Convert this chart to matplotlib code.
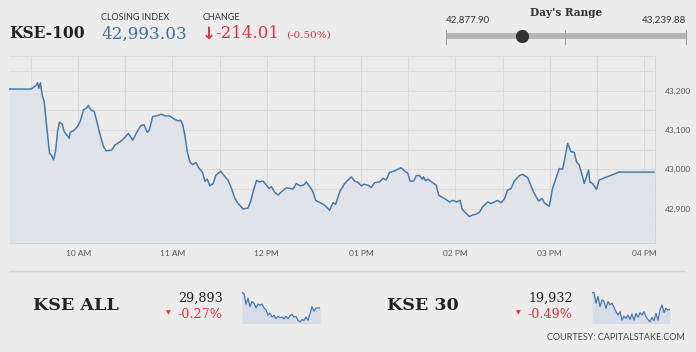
import matplotlib.pyplot as plt
from matplotlib.lines import Line2D

# KSE-100 intraday (minutes after 09:00, index value)
minutes = [16, 30, 33.3, 34.2, 35, 36, 37.1, 38.4, 40.1, 41.8, 43, 44.3, 45.6, 46.9, 48.1,
           49.8, 51.1, 52.8, 54.3, 54.9, 57, 59.6, 61.3, 63.4, 65.1, 66.5, 68.1, 70.2, 71.9,
           74, 76.1, 77.8, 81.4, 83.5, 86.7, 89.2, 91.9, 94.7, 97.3, 99.8, 101.9, 104, 105.3,
           107.4, 110, 112.9, 115.2, 118, 121, 123.7, 125.2, 126.5, 127.9, 129.4, 131.1,
           132.8, 134.9, 137, 139.2, 140.6, 142.1, 143.8, 145.9, 147.6, 150.6, 152.7, 155.4,
           157.6, 159.7, 161.8, 165, 168.1, 169.7, 171.3, 173.5, 175.1, 177.7, 179.8, 181.5,
           183, 185.1, 187.2, 189.4, 192.5, 196.7, 198.9, 201, 203.5, 205.2, 207.3, 209.4,
           211.1, 214.1, 216.8, 220, 222.1, 223.8, 226.4, 229.5, 233.8, 235.9, 238, 240.2,
           241.6, 244.3, 246.5, 248.6, 251.8, 253.9, 256, 258.1, 261.3, 264, 265.5, 267.6,
           269.7, 271.2, 273.4, 275.1, 277.2, 278.9, 279.7, 281, 282.4, 285.2, 287.8, 289.4,
           293, 296.2, 298.3, 300.8, 303, 304.3, 306.8, 308.9, 311, 313.2, 315.3, 317.4,
           320.6, 322.7, 324.8, 326.9, 329.1, 331.1, 333.2, 335.4, 337.5, 340.7, 342.8, 346,
           348.1, 350.2, 353, 355.1, 356.6, 359.7, 361.8, 364, 366.1, 368.2, 369.2, 371.4,
           373.5, 375.6, 377.1, 378.8, 380.9, 382, 383.1, 384.7, 385.6, 387.3, 389.8, 391.5,
           404.2, 426.4]
index = [43204, 43204, 43213, 43220, 43206, 43220, 43189, 43172, 43104, 43041, 43036, 43024,
         43045, 43096, 43120, 43115, 43096, 43087, 43079, 43094, 43098, 43109, 43122, 43151,
         43155, 43162, 43151, 43147, 43122, 43087, 43058, 43047, 43049, 43062, 43070, 43079,
         43091, 43074, 43094, 43111, 43113, 43094, 43100, 43134, 43136, 43140, 43136, 43136,
         43128, 43123, 43125, 43113, 43087, 43045, 43019, 43012, 43017, 43002, 42992, 42970,
         42975, 42958, 42964, 42985, 42995, 42985, 42972, 42951, 42926, 42913, 42899, 42902,
         42918, 42943, 42972, 42968, 42970, 42960, 42951, 42956, 42941, 42935, 42943, 42953,
         42950, 42964, 42958, 42960, 42968, 42956, 42943, 42921, 42915, 42909, 42896, 42915,
         42911, 42943, 42964, 42981, 42970, 42967, 42958, 42962, 42960, 42954, 42966, 42968,
         42977, 42973, 42992, 42996, 43001, 43004, 42996, 42990, 42970, 42970, 42984, 42984,
         42975, 42981, 42971, 42975, 42967, 42960, 42934, 42926, 42917, 42921, 42917, 42921,
         42899, 42888, 42880, 42884, 42886, 42891, 42905, 42917, 42913, 42917, 42921, 42915,
         42924, 42947, 42951, 42970, 42984, 42987, 42979, 42958, 42939, 42919, 42926, 42915,
         42906, 42951, 42977, 43002, 43000, 43019, 43066, 43045, 43043, 43019, 43011, 42981,
         42964, 42977, 42998, 42968, 42964, 42949, 42973, 42993, 42993]

x_ticks = [60, 120, 180, 240, 300, 360, 420]
x_labels = ["10 AM", "11 AM", "12 PM", "01 PM", "02 PM", "03 PM", "04 PM"]
y_ticks = [42900, 43000, 43100, 43200]

# sparklines
kse_all = [30013, 30003, 29923, 29968, 29903, 29943, 29928, 29893, 29923, 29913, 29923,
           29893, 29878, 29836, 29853, 29823, 29836, 29811, 29828, 29818, 29823, 29808,
           29828, 29811, 29833, 29843, 29823, 29828, 29798, 29786, 29803, 29798, 29823,
           29798, 29848, 29903, 29868, 29893, 29893, 29893]
kse_30 = [20028, 20032, 19968, 20008, 19948, 19988, 19978, 19938, 19978, 19958, 19968,
          19944, 19918, 19898, 19918, 19868, 19892, 19878, 19898, 19872, 19904, 19868,
          19908, 19884, 19912, 19898, 19918, 19888, 19872, 19858, 19884, 19864, 19908,
          19868, 19928, 19958, 19912, 19938, 19928, 19932]

W, H = 696, 352
BG = "#ececec"
LINE = "#4a79aa"
FILL = "#dfe4ea"
GRID = "#dadada"
RED = "#e2333d"


def fx(x):
    return x / W


def fy(y):
    return 1 - y / H


fig = plt.figure(figsize=(W / 100, H / 100), dpi=100, facecolor=BG)

# main chart
ax = fig.add_axes([fx(9), fy(243.3), fx(655) - fx(9), fy(56) - fy(243.3)])
ax.set_facecolor(BG)
ax.fill_between(minutes, index, 42700, color=FILL, lw=0)
ax.plot(minutes, index, color=LINE, lw=1.1)
ax.set_xlim(16, 427)
ax.set_ylim(42812, 43288)
for m in range(30, 421, 30):
    ax.axvline(m, color=GRID, lw=0.8, zorder=0)
for v in range(42850, 43251, 50):
    ax.axhline(v, color=GRID, lw=0.8, zorder=0)
ax.axhline(43288, color=GRID, lw=0.8, zorder=0)
for s in ["top", "left"]:
    ax.spines[s].set_visible(False)
ax.spines["bottom"].set_color("#d4d4d4")
ax.spines["right"].set_color("#d4d4d4")
ax.set_xticks(x_ticks)
ax.set_xticklabels(x_labels)
ax.set_yticks(y_ticks)
ax.set_yticklabels([f"{v:,}" for v in y_ticks])
ax.yaxis.tick_right()
ax.tick_params(axis="both", length=0, labelsize=6, labelcolor="#555555")
ax.tick_params(axis="x", pad=5)
ax.tick_params(axis="y", pad=7)
for lab in ax.get_xticklabels() + ax.get_yticklabels():
    lab.set_family("Lato")

# header
serif = "DejaVu Serif"
fig.text(fx(9), fy(33), "KSE-100", fontsize=11.2, family=serif, weight="bold",
         color="#222222", va="center")
fig.text(fx(101), fy(17), "CLOSING INDEX", fontsize=6.5, family="Lato", color="#333333",
         va="center")
fig.text(fx(101), fy(34), "42,993.03", fontsize=12.2, family=serif, color="#3d6fa3",
         va="center")
fig.text(fx(203), fy(17), "CHANGE", fontsize=6.5, family="Lato", color="#333333",
         va="center")
fig.text(fx(202), fy(34), "↓", fontsize=12, family="DejaVu Sans", weight="bold",
         color=RED, va="center")
fig.text(fx(215), fy(34), "-214.01", fontsize=12, family=serif, color=RED, va="center")
fig.text(fx(286), fy(35), "(-0.50%)", fontsize=7.5, family=serif, color=RED, va="center")

# day's range
fig.text(fx(566), fy(13), "Day's Range", fontsize=7.6, family=serif, weight="bold",
         color="#333333", ha="center", va="center")
fig.text(fx(446), fy(20), "42,877.90", fontsize=7, family="Lato", color="#333333",
         va="center")
fig.text(fx(686), fy(20), "43,239.88", fontsize=7, family="Lato", color="#333333",
         ha="right", va="center")
fig.add_artist(Line2D([fx(446), fx(686)], [fy(35.5), fy(35.5)], color="#b5b5b5", lw=4.2,
                      solid_capstyle="butt"))
for xx in [446, 565, 686]:
    fig.add_artist(Line2D([fx(xx), fx(xx)], [fy(30), fy(44)], color="#a0a0a0", lw=0.8))
fig.add_artist(Line2D([fx(522)], [fy(35.5)], marker="o", ms=8.5, color="#333333", lw=0,
                      zorder=5))

# separator
fig.add_artist(Line2D([fx(9), fx(685)], [fy(270.5), fy(270.5)], color="#d2d2d2", lw=1))


def ticker(name, x_name, x_val, value, pct, spark, x_sp):
    fig.text(fx(x_name), fy(306), name, fontsize=12.6, family=serif, weight="bold",
             color="#222222", va="center")
    fig.text(fx(x_val), fy(298), value, fontsize=9.2, family=serif, color="#222222",
             ha="right", va="center")
    fig.text(fx(x_val), fy(314), pct, fontsize=9.2, family=serif, color=RED, ha="right",
             va="center")
    fig.text(fx(x_val - 55), fy(313), "▼", fontsize=4.5, color=RED, ha="center",
             va="center")
    sx = fig.add_axes([fx(x_sp), fy(323), fx(x_sp + 78) - fx(x_sp), fy(290) - fy(323)])
    xs = range(len(spark))
    rng = max(spark) - min(spark)
    lo = min(spark) - rng * 0.04
    sx.fill_between(xs, spark, lo - 100, color="#d6dde7", lw=0)
    sx.plot(xs, spark, color=LINE, lw=0.9)
    sx.set_xlim(0, len(spark) - 1)
    sx.set_ylim(lo, max(spark) + rng * 0.08)
    sx.axis("off")


ticker("KSE ALL", 33, 223, "29,893", "-0.27%", kse_all, 242)
ticker("KSE 30", 387, 573, "19,932", "-0.49%", kse_30, 592)

fig.text(fx(685), fy(338), "COURTESY: CAPITALSTAKE.COM", fontsize=6.5, family="Lato",
         color="#444444", ha="right", va="center")

fig.savefig("out.png", dpi=100, facecolor=BG)
